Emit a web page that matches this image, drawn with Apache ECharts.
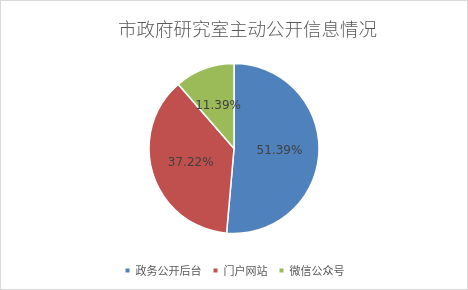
<!DOCTYPE html>
<html><head><meta charset="utf-8">
<script src="https://cdn.jsdelivr.net/npm/echarts@6/dist/echarts.min.js"></script>
<style>html,body{margin:0;padding:0;background:#fff}
#c{width:468px;height:290px;box-sizing:border-box;border:1px solid #d9d9d9;}</style>
</head><body><div id="c"></div>
<script>
const title = '市政府研究室主动公开信息情况';
const categories = ['政务公开后台', '门户网站', '微信公众号'];
const values = [51.39, 37.22, 11.39];
const colors = ['#4F81BD', '#C0504D', '#9BBB59'];
const chart = echarts.init(document.getElementById('c'));
chart.setOption({
  animation: false,
  title: {text: title, left: 112, top: 14,
    textStyle: {fontFamily: 'Noto Sans CJK SC', fontWeight: 300, fontSize: 18.5, color: '#595959'}},
  legend: {bottom: 8, left: 'center', itemWidth: 6, itemHeight: 6, itemGap: 10,
    icon: 'rect', data: categories,
    textStyle: {fontFamily: 'Noto Sans CJK SC', fontSize: 11, color: '#595959'}},
  series: [{
    type: 'pie', center: [233, 147.5], radius: [0, 85], startAngle: 90, clockwise: true,
    data: categories.map((n, i) => ({name: n, value: values[i], itemStyle: {color: colors[i]}})),
    itemStyle: {borderColor: '#fff', borderWidth: 1.5},
    label: {position: 'inner', formatter: p => p.value.toFixed(2) + '%',
      fontFamily: 'DejaVu Sans', fontSize: 12, color: '#404040'},
    labelLine: {show: false}
  }]
});
</script></body></html>
